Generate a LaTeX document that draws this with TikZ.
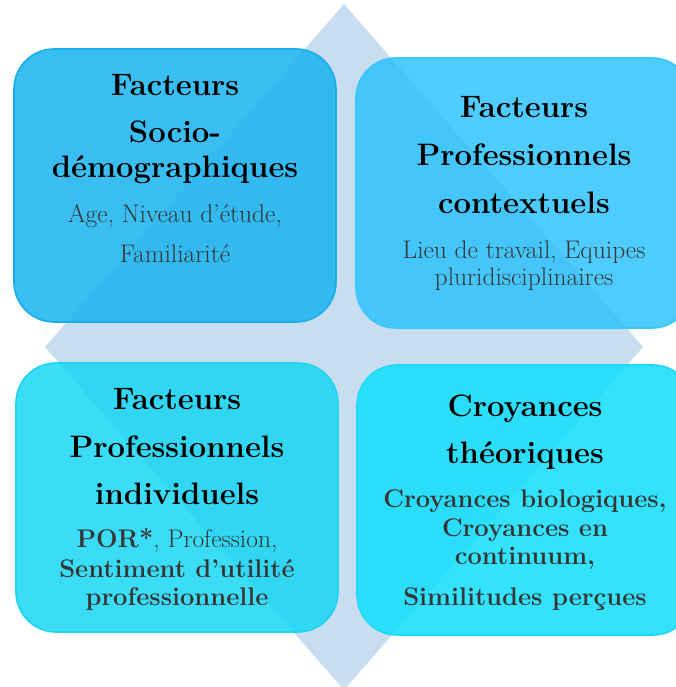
\documentclass[tikz,border=0pt]{standalone}
\usepackage{fontspec}
\definecolor{diam}{HTML}{C9DDF1}
\definecolor{subgray}{HTML}{363636}
\definecolor{fillA}{HTML}{17B3F0}
\definecolor{lineA}{HTML}{18AEEA}
\definecolor{fillB}{HTML}{2EC3FD}
\definecolor{lineB}{HTML}{3AC6FA}
\definecolor{fillC}{HTML}{17D7F3}
\definecolor{lineC}{HTML}{20D4F0}
\definecolor{fillD}{HTML}{0FDEFB}
\definecolor{lineD}{HTML}{1FD8F8}
\begin{document}
\begin{tikzpicture}[x=1pt,y=-1pt,
  box/.style={rectangle, line width=1.6pt, rounded corners=40pt, fill opacity=0.85, draw opacity=1, inner sep=0pt},
  ttl/.style={anchor=base, inner sep=0pt, text=black, font=\fontsize{31}{36}\selectfont\bfseries},
  sub/.style={anchor=base, inner sep=0pt, text=subgray, font=\fontsize{25.5}{30}\selectfont},
  subb/.style={anchor=base, inner sep=0pt, text=subgray, font=\fontsize{25.5}{30}\selectfont\bfseries}]
\useasboundingbox (0,0) rectangle (676,687);
\clip (0,0) rectangle (676,687);
\fill[diam] (344,4) -- (643,347) -- (344,690) -- (45,347) -- cycle;
% boxes
\node[box, draw=lineA, fill=fillA, minimum width=322pt, minimum height=273pt] (boxA) at (175,185.5) {};
\node[box, draw=lineB, fill=fillB, minimum width=336pt, minimum height=270pt] (boxB) at (524,193) {};
\node[box, draw=lineC, fill=fillC, minimum width=322pt, minimum height=269pt] (boxC) at (177,497.5) {};
\node[box, draw=lineD, fill=fillD, minimum width=336pt, minimum height=270pt] (boxD) at (525,500) {};
% top-left
\node[ttl] (a1) at (175,96) {Facteurs};
\node[ttl] (a2) at (175,143) {Socio-};
\node[ttl] (a3) at (175,177) {démographiques};
\node[sub] (a4) at (175,222) {Age, Niveau d’étude,};
\node[sub] (a5) at (175,262) {Familiarité};
% top-right
\node[ttl] (b1) at (524,118) {Facteurs};
\node[ttl] (b2) at (524,166) {Professionnels};
\node[ttl] (b3) at (524,213) {contextuels};
\node[sub] (b4) at (524,258) {Lieu de travail, Equipes};
\node[sub] (b5) at (524,285) {pluridisciplinaires};
% bottom-left
\node[ttl] (c1) at (177,409) {Facteurs};
\node[ttl] (c2) at (177,457) {Professionnels};
\node[ttl] (c3) at (177,504) {individuels};
\node[sub] (c4) at (177,547) {\textbf{POR*}, Profession,};
\node[subb] (c5) at (177,577) {Sentiment d’utilité};
\node[subb] (c6) at (177,605) {professionnelle};
% bottom-right
\node[ttl] (d1) at (525,416) {Croyances};
\node[ttl] (d2) at (525,463) {théoriques};
\node[subb] (d3) at (525,507) {Croyances biologiques,};
\node[subb] (d4) at (525,536) {Croyances en};
\node[subb] (d5) at (525,564) {continuum,};
\node[subb] (d6) at (525,605) {Similitudes perçues};
\end{tikzpicture}
\end{document}
